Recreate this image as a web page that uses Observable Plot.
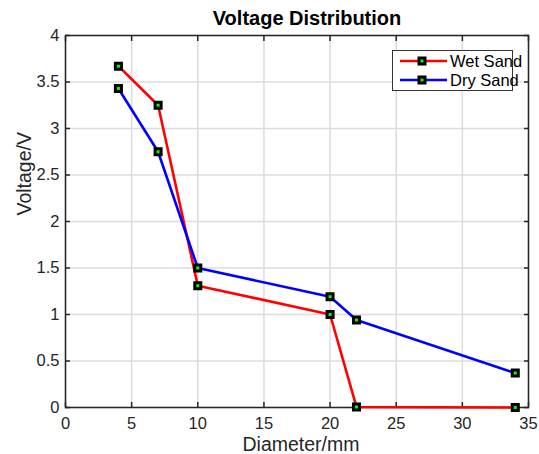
<!DOCTYPE html>
<html>
<head>
<meta charset="utf-8">
<script src="https://cdn.jsdelivr.net/npm/d3@7"></script>
<script src="https://cdn.jsdelivr.net/npm/@observablehq/plot@0.6"></script>
<style>
  html, body { margin: 0; padding: 0; background: #fff; }
  #wrap { position: relative; width: 539px; height: 454px; font-family: "Liberation Sans", Arial, sans-serif; }
  #legend { position: absolute; left: 392px; top: 50px; width: 121px; height: 41px; background: #fff; border: 1px solid #333; box-sizing: border-box; overflow: visible; }
</style>
</head>
<body>
<div id="wrap"></div>
<script>
const diameter = [4, 7, 10, 20, 22, 34];
const wetSand = [3.67, 3.25, 1.31, 1.0, 0.005, 0.0];
const drySand = [3.43, 2.75, 1.5, 1.19, 0.94, 0.37];
const seriesNames = ["Wet Sand", "Dry Sand"];
const seriesColors = ["#ff0000", "#0000ff"];
const xTicks = [0, 5, 10, 15, 20, 25, 30, 35];
const yTicks = [0, 0.5, 1, 1.5, 2, 2.5, 3, 3.5, 4];
const titleText = "Voltage Distribution";
const xLabel = "Diameter/mm";
const yLabel = "Voltage/V";

const rows = [];
diameter.forEach((d, i) => rows.push({series: seriesNames[0], x: d, y: wetSand[i]}));
diameter.forEach((d, i) => rows.push({series: seriesNames[1], x: d, y: drySand[i]}));

const tickColor = "#262626";
const chart = Plot.plot({
  width: 539,
  height: 454,
  marginLeft: 65,
  marginRight: 11,
  marginTop: 35,
  marginBottom: 47,
  style: {fontFamily: "'Liberation Sans', Arial, sans-serif", fontSize: "16.5px", background: "#fff", overflow: "visible"},
  x: {domain: [0, 35]},
  y: {domain: [0, 4]},
  color: {domain: seriesNames, range: seriesColors},
  marks: [
    Plot.gridX(xTicks, {stroke: "#dcdcdc", strokeOpacity: 1, strokeWidth: 1.5}),
    Plot.gridY(yTicks, {stroke: "#dcdcdc", strokeOpacity: 1, strokeWidth: 1.5}),
    Plot.axisX(xTicks, {anchor: "bottom", tickSize: -5, tickPadding: 15, color: tickColor, stroke: "#262626", strokeWidth: 1.5, tickFormat: d => d, label: null}),
    Plot.axisX(xTicks, {anchor: "top", tickSize: -5, stroke: "#262626", strokeWidth: 1.5, tickFormat: () => "", label: null}),
    Plot.axisY(yTicks, {anchor: "left", tickSize: -5, tickPadding: 11, color: tickColor, stroke: "#262626", strokeWidth: 1.5, tickFormat: d => d, label: null}),
    Plot.axisY(yTicks, {anchor: "right", tickSize: -5, stroke: "#262626", strokeWidth: 1.5, tickFormat: () => "", label: null}),
    Plot.frame({stroke: "#262626", strokeWidth: 1.5}),
    Plot.line(rows, {x: "x", y: "y", z: "series", stroke: "series", strokeWidth: 2.6}),
    Plot.dot(rows, {x: "x", y: "y", symbol: "square", r: 3.4, fill: "#00ff00", stroke: "black", strokeWidth: 3}),
    Plot.text([titleText], {text: d => d, frameAnchor: "top", lineAnchor: "middle", dy: -17, dx: 10, fontSize: 20, fontWeight: "bold", fill: "#000"}),
    Plot.text([xLabel], {text: d => d, frameAnchor: "bottom", lineAnchor: "middle", dy: 37, dx: 4, fontSize: 19.5, fill: tickColor}),
    Plot.text([yLabel], {text: d => d, frameAnchor: "left", dx: -41, dy: -6, rotate: -90, fontSize: 19.5, fill: tickColor})
  ]
});

const wrap = document.getElementById("wrap");
wrap.appendChild(chart);

const legend = document.createElement("div");
legend.id = "legend";
let html = '<svg width="121" height="41" style="position:absolute;left:-1px;top:-1px;overflow:visible">';
seriesNames.forEach((name, i) => {
  const cy = 11 + i * 19;
  html += `<line x1="8" x2="55" y1="${cy}" y2="${cy}" stroke="${seriesColors[i]}" stroke-width="2.6"/>`;
  html += `<rect x="27" y="${cy - 3}" width="6" height="6" fill="#00ff00" stroke="black" stroke-width="3"/>`;
  html += `<text x="58" y="${cy + 6}" font-size="16.5" fill="#000" font-family="'Liberation Sans', Arial, sans-serif">${name}</text>`;
});
html += '</svg>';
legend.innerHTML = html;
wrap.appendChild(legend);
</script>
</body>
</html>
